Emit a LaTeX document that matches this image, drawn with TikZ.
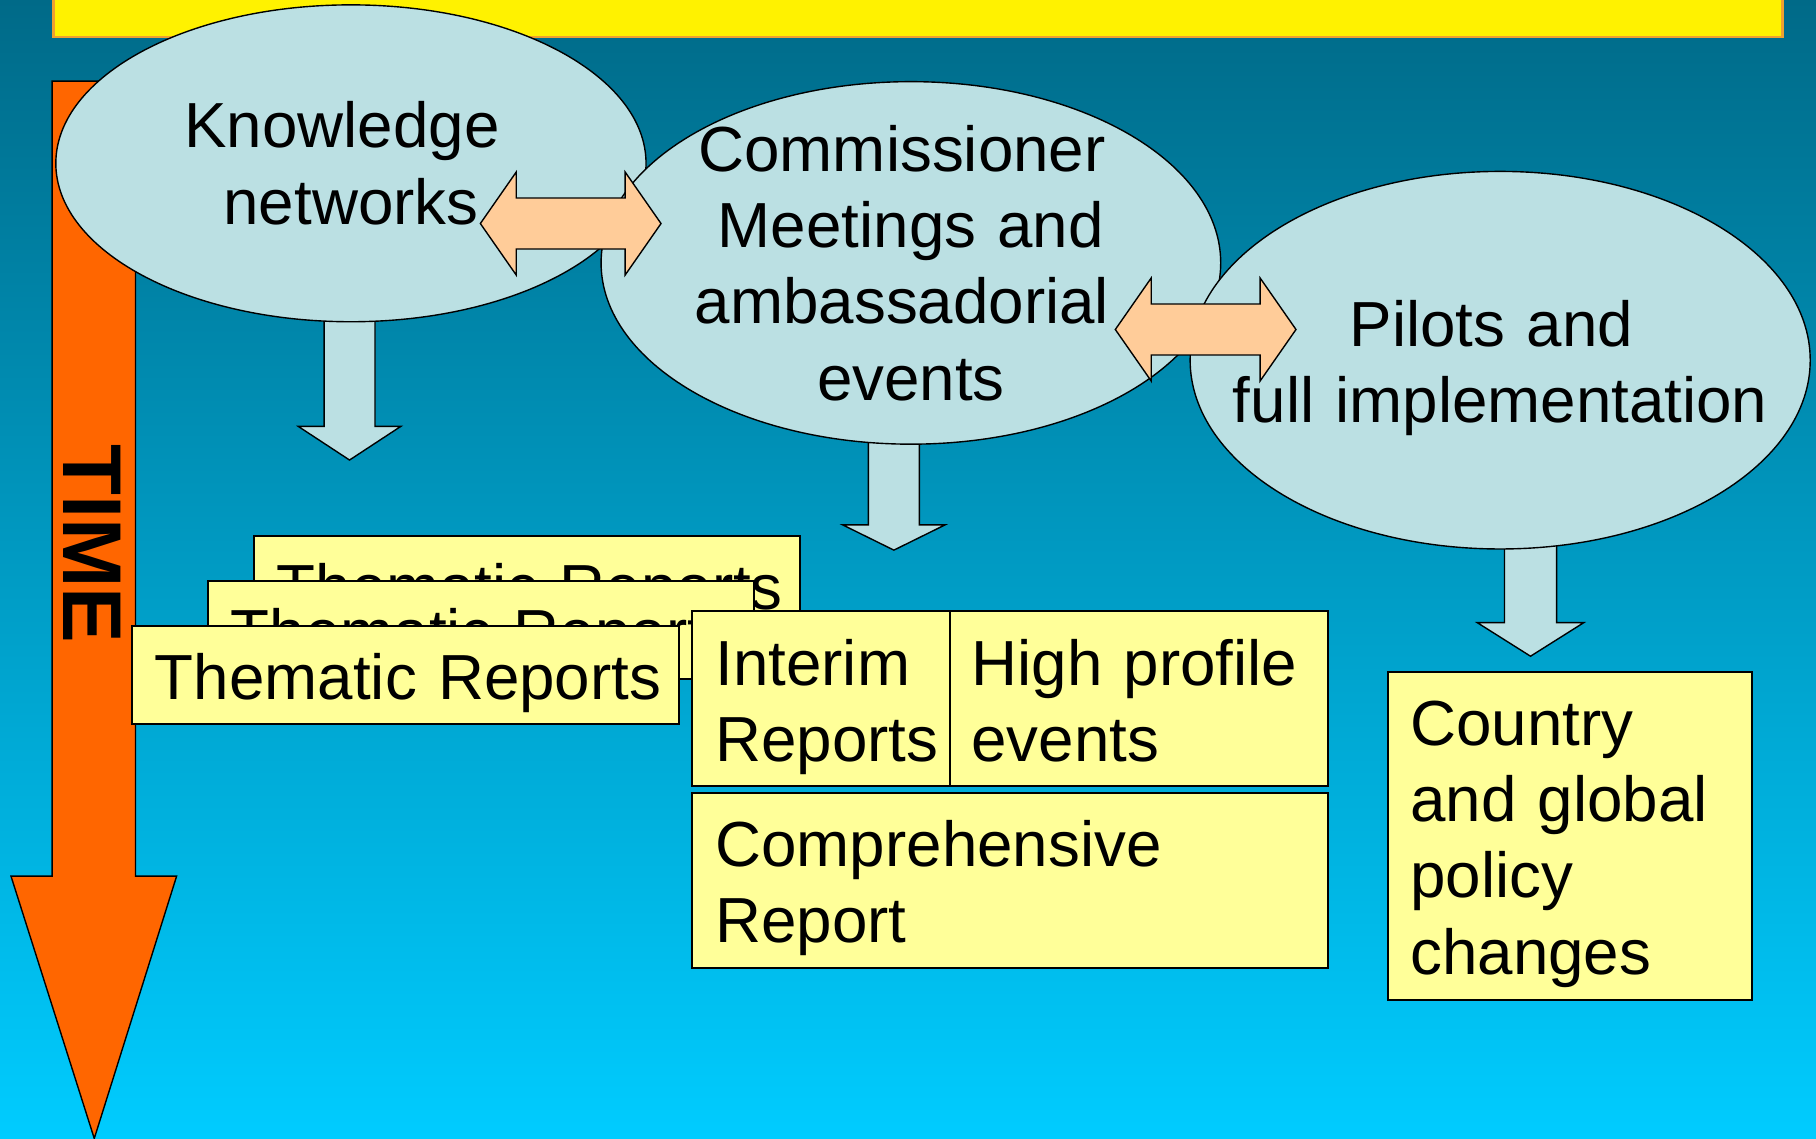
\documentclass[tikz,border=0pt]{standalone}
\usepackage{fontspec}
\setmainfont{Liberation Sans}
\usetikzlibrary{shapes.geometric,calc}

\pgfdeclarelayer{bg}
\pgfsetlayers{bg,main}

\definecolor{skytop}{RGB}{0,106,136}
\definecolor{skymid}{RGB}{0,168,212}
\definecolor{skybot}{RGB}{0,204,255}
\definecolor{ellblue}{RGB}{187,224,227}
\definecolor{peach}{RGB}{255,204,153}
\definecolor{notepad}{RGB}{255,255,153}
\definecolor{timeorange}{RGB}{255,102,0}
\definecolor{bannerline}{RGB}{240,160,48}

\tikzset{
  bodyfont/.style={font=\fontsize{55}{66}\selectfont},
  ell/.style={ellipse, draw=black, line width=1.2pt, fill=ellblue, inner sep=0pt},
  elltext/.style={bodyfont, align=center, inner sep=0pt, text height=39.4pt},
  note/.style={rectangle, draw=black, line width=1.6pt, fill=notepad,
    anchor=north west, bodyfont, align=left, inner xsep=19.5pt, inner ysep=0pt},
  blockarrow/.style={draw=black, line width=1.2pt, line join=miter},
  pics/twoway/.style={code={
    \draw[blockarrow, fill=peach]
      (-78,0) -- (-47,-44.5) -- (-47,-22) -- (47,-22) -- (47,-44.5) -- (78,0)
      -- (47,44.5) -- (47,22) -- (-47,22) -- (-47,44.5) -- cycle;}},
}

% trailing word space kept at the end of a centred line
\newcommand\trail{\hspace*{15.3pt}\null}

% block arrow hanging below a node: node, x offset, top, head base, tip, half shaft, half head
\newcommand\dropfrom[7]{%
  \begin{scope}[shift={(#1.south)}]
    \draw[blockarrow, fill=ellblue]
      (#2-#6,#3) -- (#2-#6,#4) -- (#2-#7,#4) -- (#2,#5) -- (#2+#7,#4)
      -- (#2+#6,#4) -- (#2+#6,#3) -- cycle;
  \end{scope}}

\begin{document}
\begin{tikzpicture}[x=1pt, y=-1pt]
\useasboundingbox (0,0) rectangle (1568,983);

\begin{pgfonlayer}{bg}
  % sky background
  \shade[top color=skytop, middle color=skymid, bottom color=skybot]
    (0,0) rectangle (1568,983);
  % title banner
  \draw[fill=yellow, draw=bannerline, line width=2pt] (46.3,-20) rectangle (1539,32.2);
  % time axis arrow
  \draw[blockarrow, fill=timeorange]
    (45,70) -- (117,70) -- (117,756.5) -- (152.5,756.5) -- (81.4,983)
    -- (9.5,756.5) -- (45,756.5) -- cycle;
\end{pgfonlayer}

% stages
\node[ell, minimum width=509.6pt, minimum height=273.6pt] (kn) at (303,141) {};
\node[ell, minimum width=535pt, minimum height=313pt] (cm) at (786.5,227) {};
\node[ell, minimum width=535.4pt, minimum height=326pt] (pl) at (1295.3,311) {};

\node[elltext, text width=330pt, text depth=66pt] (kn-text) at (kn.center)
  {Knowledge\trail\\networks};
\node[elltext, text width=400pt, text depth=198pt] (cm-text) at (cm.center)
  {Commissioner\trail\\Meetings and\\ambassadorial\trail\\events};
\node[elltext, text width=480pt, text depth=66pt, yshift=-1.5pt] (pl-text) at (pl.center)
  {Pilots and\trail\\full implementation};

% links between stages
\pic (kn-cm) at (492.75,193) {twoway};
\pic (cm-pl) at (1041,284.5) {twoway};

% outputs hanging below each stage
\begin{pgfonlayer}{bg}
  \dropfrom{kn}{-1.2}{-28}{89.8}{118.8}{22}{44.2}
  \dropfrom{cm}{-14.7}{-33}{69.1}{90.9}{22}{44.2}
  \dropfrom{pl}{26.2}{-24}{63}{92}{22.5}{46}
\end{pgfonlayer}

% stacked thematic reports
\node[note, text width=432pt, text height=63.4pt, text depth=21.2pt] (th3) at (218.6,462) {\mbox{Thematic Reports}};
\node[note, text width=432pt, text height=63.4pt, text depth=21.2pt] (th2) at (179,501) {\mbox{Thematic Reports}};
\node[note, text width=433pt, text height=63pt, text depth=21.6pt] (th1) at (113.5,540) {\mbox{Thematic Reports}};

% commission outputs
\node[note, inner xsep=20pt, text width=209pt, text height=63.7pt, text depth=86.8pt] (interim) at (597,527)
  {Interim\\Reports};
\node[note, inner xsep=18.5pt, text width=289.5pt, text height=63.7pt, text depth=86.8pt] (high) at (819.5,527)
  {High profile\\events};
\node[note, inner xsep=20pt, text width=509pt, text height=63pt, text depth=87.7pt] (comp) at (597,684)
  {Comprehensive\\Report};

% implementation outcome
\node[note, inner xsep=19.6pt, text width=275pt, text height=63.1pt, text depth=220.4pt] (country) at (1197.4,579.4)
  {Country\\and global\\policy\\changes};

% axis label
\node[font=\fontsize{72}{80}\selectfont\bfseries, rotate=-90, inner sep=0pt] (time) at (80,469.5) {TIME};
\end{tikzpicture}
\end{document}
